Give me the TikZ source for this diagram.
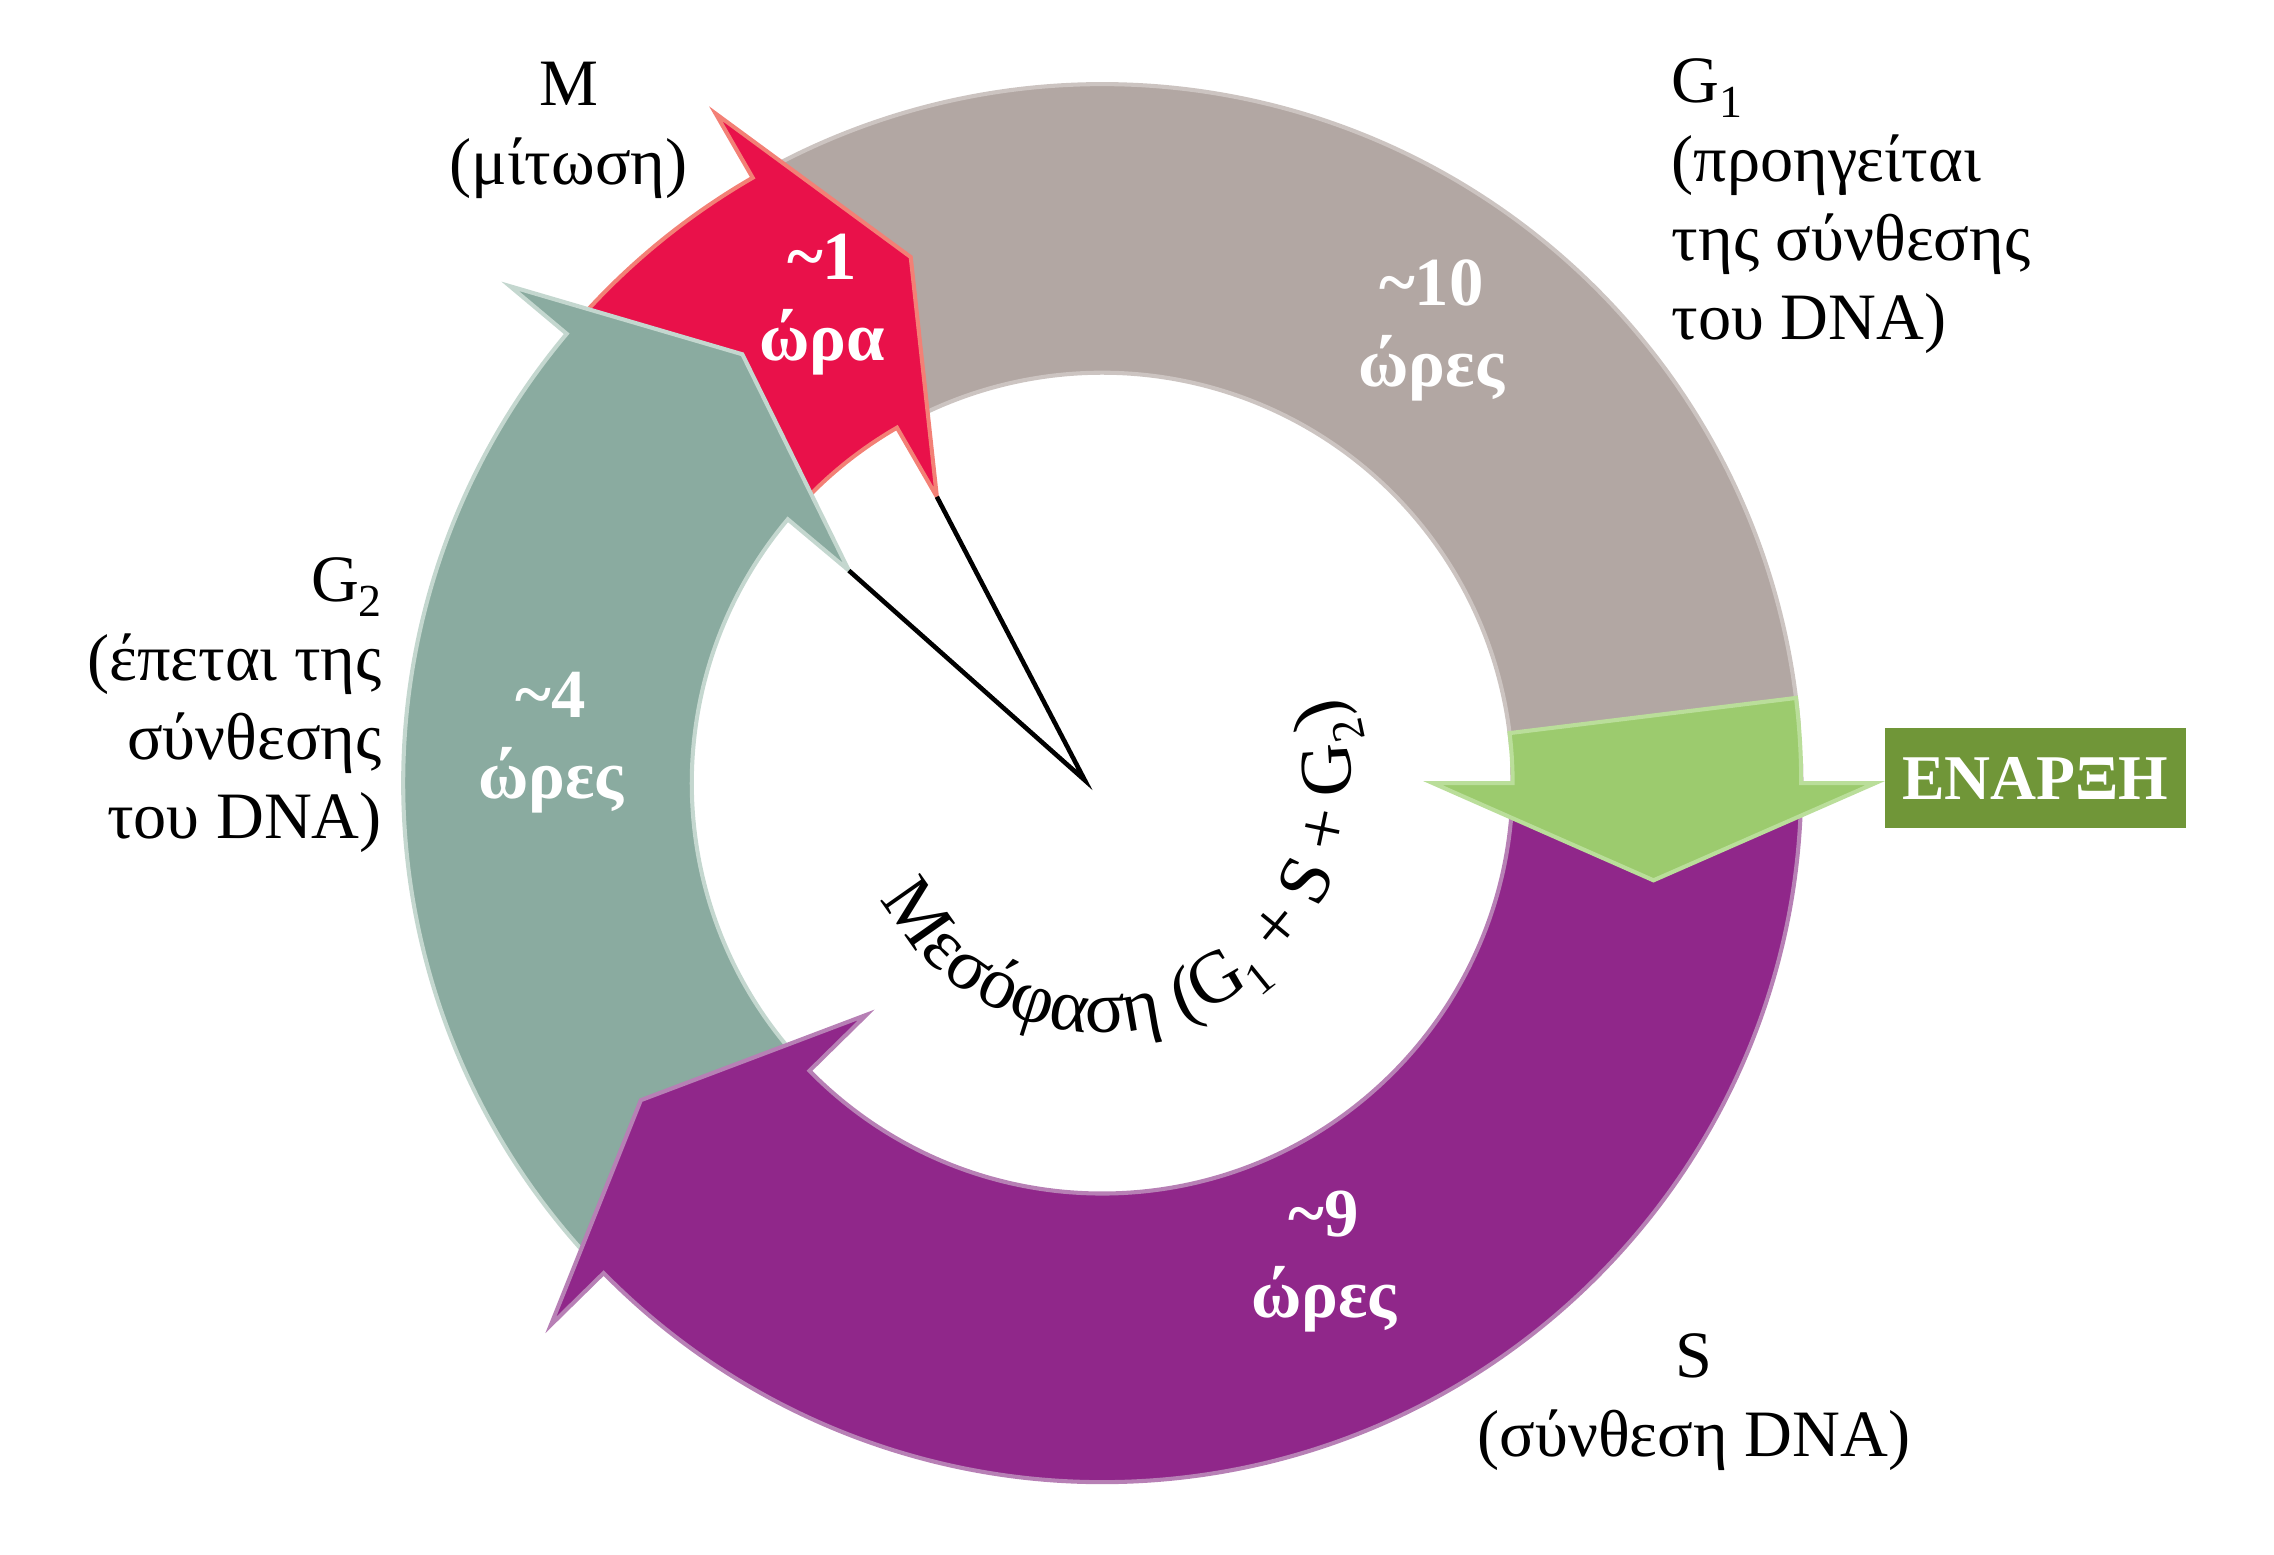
\documentclass[tikz,border=0pt]{standalone}
\usepackage{fontspec}
\setmainfont{Liberation Serif}
\usepackage{xcolor}
\definecolor{GOneFill}{RGB}{178,167,163}
\definecolor{GOneBorder}{RGB}{204,196,193}
\definecolor{MFill}{RGB}{233,17,74}
\definecolor{MBorder}{RGB}{243,128,118}
\definecolor{GTwoFill}{RGB}{138,171,160}
\definecolor{GTwoBorder}{RGB}{196,215,207}
\definecolor{SFill}{RGB}{144,39,138}
\definecolor{SBorder}{RGB}{183,128,181}
\definecolor{StartFill}{RGB}{156,203,110}
\definecolor{StartBorder}{RGB}{186,222,154}
\definecolor{StartBox}{RGB}{112,150,56}
\usepackage{tikz}
\usetikzlibrary{decorations.text}

% ring radii
\newcommand{\Rin}{2.83}
\newcommand{\Rout}{4.82}
\newcommand{\Rbi}{2.28}
\newcommand{\Rbo}{5.33}
\newcommand{\Rtip}{3.86}
\newcommand{\lowsub}[1]{\raisebox{-0.5ex}{\small #1}}

% arc arrow: style, start angle, end angle (clockwise)
\newcommand{\cyclearrow}[3]{%
  \filldraw[#1] (#2:\Rout) arc[start angle=#2, end angle=#3, radius=\Rout]
    -- (#3:\Rbo) -- ({#3-10}:\Rtip) -- (#3:\Rbi) -- (#3:\Rin)
    arc[start angle=#3, end angle=#2, radius=\Rin] -- cycle;%
}

\tikzset{
  % band of the cycle
  phase/.style={line width=0.8pt, line join=miter},
  gone/.style={phase, fill=GOneFill, draw=GOneBorder},
  mit/.style={phase, fill=MFill, draw=MBorder},
  gtwo/.style={phase, fill=GTwoFill, draw=GTwoBorder},
  synth/.style={phase, fill=SFill, draw=SBorder},
  startarrow/.style={phase, fill=StartFill, draw=StartBorder},
  % texts
  plabel/.style={inner sep=0pt, font=\fontsize{13}{15.5}\selectfont},
  hours/.style={inner sep=0pt, align=center, text=white,
    font=\fontsize{13.5}{16}\selectfont\bfseries},
  startbox/.style={fill=StartBox, text=white, minimum width=2.07cm,
    minimum height=0.69cm, inner sep=0pt,
    font=\fontsize{12.5}{15}\selectfont\bfseries},
  pointer/.style={draw=black, line width=0.9pt}
}

\begin{document}
\begin{tikzpicture}
  \useasboundingbox (-7.60,-5.32) rectangle (8.08,5.40);

  % phases
  \filldraw[gone] (120:\Rout) arc[start angle=120, end angle=5, radius=\Rout]
    -- (5:\Rin) arc[start angle=5, end angle=120, radius=\Rin] -- cycle;
  \cyclearrow{mit}{140}{120}
  \cyclearrow{gtwo}{224}{140}
  \cyclearrow{synth}{2}{-135.5}
  \cyclearrow{startarrow}{7}{0}

  % pointers to the interphase
  \coordinate (hub) at (-0.12,0.02);
  \coordinate (mbarb) at (120:\Rbi);
  \coordinate (gtwobarb) at (140:\Rbi);
  \draw[pointer] (mbarb) -- (hub) -- (gtwobarb);

  % hours
  \node[hours] (hm) at (-1.93,3.30) {\textasciitilde1\\ώρα};
  \node[hours] (hgone) at (2.27,3.12) {\textasciitilde10\\ώρες};
  \node[hours] (hgtwo) at (-3.80,0.28) {\textasciitilde4\\ώρες};
  \node[hours] (hs) at (1.53,-3.30) {\textasciitilde9\\ώρες};

  % phase names
  \node[plabel, align=center] (mlabel) at (-3.68,4.50) {M\\(μίτωση)};
  \node[plabel, align=left, anchor=west] (gonelabel) at (3.92,3.98)
    {G\lowsub{1}\\(προηγείται\\της σύνθεσης\\του DNA)};
  \node[plabel, align=right, anchor=east] (gtwolabel) at (-4.96,0.54)
    {G\lowsub{2}\\(έπεται της\\σύνθεσης\\του DNA)};
  \node[plabel, align=center] (slabel) at (4.08,-4.27) {S\\(σύνθεση DNA)};
  \node[startbox] (start) at (6.435,0.035) {ΕΝΑΡΞΗ};

  % interphase along the inner circle
  \path[decorate, decoration={text along path, text align=center,
      text={|\fontsize{14.5}{16}\selectfont|Μεσόφαση (G{\lowsub{1}} + S + G{\lowsub{2}})}}]
    (203:1.72) arc[start angle=203, end angle=385, radius=1.72];
\end{tikzpicture}
\end{document}
